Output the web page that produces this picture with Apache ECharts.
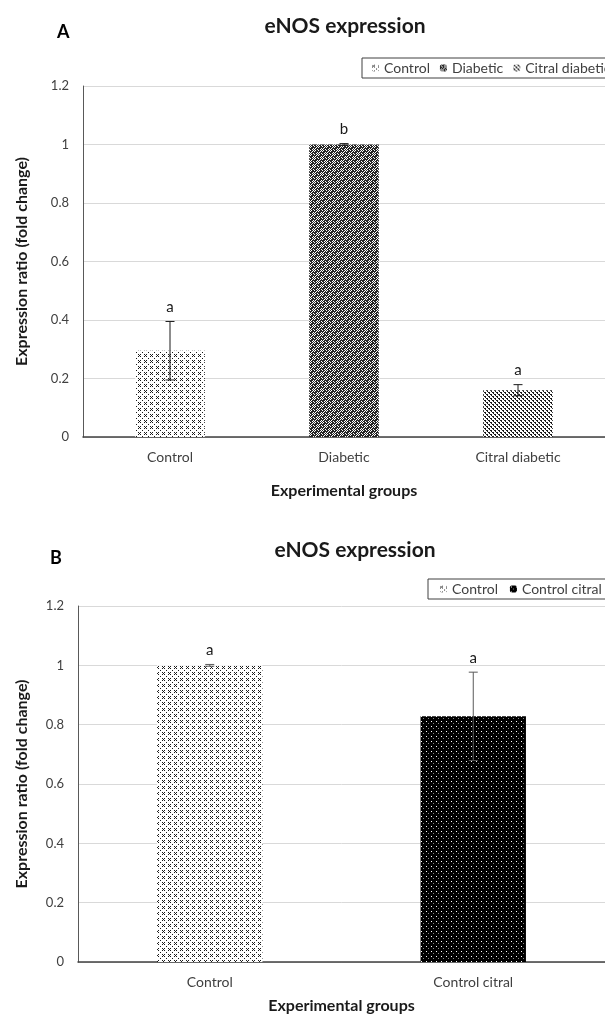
<!DOCTYPE html>
<html><head><meta charset="utf-8">
<script src="https://cdn.jsdelivr.net/npm/echarts@6/dist/echarts.min.js"></script>
<style>html,body{margin:0;padding:0;background:#fff}#c{width:605px;height:1015px}</style>
</head><body><div id="c"></div>
<script>
// ---- data ----
const catsA = ['Control', 'Diabetic', 'Citral diabetic'];
const meansA = [0.295, 1.0, 0.16];
const errA = [0.1, 0.003, 0.019];
const sigA = ['a', 'b', 'a'];

const catsB = ['Control', 'Control citral'];
const meansB = [1.0, 0.828];
const errB = [0.003, 0.149];
const sigB = ['a', 'a'];

const yMin = 0, yMax = 1.2, yStep = 0.2;

// ---- patterns ----
function makePattern(w, h, bg, fg, fn) {
  const c = document.createElement('canvas');
  c.width = w; c.height = h;
  const ctx = c.getContext('2d');
  ctx.fillStyle = bg; ctx.fillRect(0, 0, w, h);
  ctx.fillStyle = fg;
  for (let y = 0; y < h; y++) for (let x = 0; x < w; x++) if (fn(x, y)) ctx.fillRect(x, y, 1, 1);
  return { image: c, repeat: 'repeat' };
}
const patControl = makePattern(6, 6, '#ffffff', '#1a1a1a', (x, y) =>
  ((x === 0 || x === 2) && (y === 0 || y === 2)) || (x === 1 && y === 1) || (x === 4 && y === 4));
const patDiabetic = makePattern(8, 8, '#ffffff', '#262626', (x, y) => {
  const q = (x < 4) === (y < 4);
  if (q) return !((x % 4 === 1 && y % 4 === 1) || (x % 4 === 2 && y % 4 === 2));
  return (x + y) % 2 === 0;
});
const patCitral = makePattern(4, 4, '#ffffff', '#1a1a1a', (x, y) => ((x - y + 8) % 4 === 0) || ((x - y + 8) % 4 === 1 && y % 2 === 0));
const patControlCitral = (function () {
  const c = document.createElement('canvas'); c.width = 5; c.height = 5;
  const ctx = c.getContext('2d'); ctx.fillStyle = '#000'; ctx.fillRect(0, 0, 5, 5);
  ctx.fillStyle = '#ffffff'; ctx.fillRect(1, 1, 1, 1);
  ctx.fillStyle = '#8a8a8a'; ctx.fillRect(3, 3, 1, 1);
  return { image: c, repeat: 'repeat' };
})();

const FONT = 'Lato, "Open Sans", sans-serif';

function barSeries(name, idx, cats, means, xi, pat) {
  return {
    type: 'bar', name: name, xAxisIndex: xi, yAxisIndex: xi, stack: 'g' + xi,
    barWidth: '40%',
    data: cats.map((c, i) => i === idx ? means[i] : null),
    itemStyle: { color: pat },
    emphasis: { disabled: true },
    animation: false
  };
}

function errSeries(means, errs, sigs, xi, color) {
  return {
    type: 'custom', xAxisIndex: xi, yAxisIndex: xi, z: 10, animation: false, silent: true,
    data: means.map((m, i) => [i, m, errs[i]]),
    renderItem: function (params, api) {
      const i = api.value(0), m = api.value(1), e = api.value(2);
      const top = api.coord([i, m + e]);
      const bot = api.coord([i, m - e]);
      const cap = 4.5;
      return {
        type: 'group', children: [
          { type: 'line', shape: { x1: top[0], y1: top[1], x2: bot[0], y2: bot[1] }, style: { stroke: color, lineWidth: 1 } },
          { type: 'line', shape: { x1: top[0] - cap, y1: top[1], x2: top[0] + cap, y2: top[1] }, style: { stroke: color, lineWidth: 1 } },
          { type: 'line', shape: { x1: bot[0] - cap, y1: bot[1], x2: bot[0] + cap, y2: bot[1] }, style: { stroke: color, lineWidth: 1 } },
          { type: 'text', style: { text: sigs[params.dataIndex], x: top[0], y: top[1] - 14, align: 'center', verticalAlign: 'middle', font: '15px ' + FONT, fill: '#1a1a1a' } }
        ]
      };
    }
  };
}

function yAx(gi, gap) {
  return {
    gridIndex: gi, type: 'value', min: yMin, max: yMax, interval: yStep,
    name: 'Expression ratio (fold change)', nameLocation: 'middle', nameGap: gap,
    nameTextStyle: { fontFamily: FONT, fontWeight: 'bold', fontSize: 16, color: '#1a1a1a' },
    axisLine: { show: true, lineStyle: { color: '#595959', width: 1 } },
    axisTick: { show: false },
    axisLabel: { fontFamily: FONT, fontSize: 13, color: '#404040', margin: 14 },
    splitLine: { lineStyle: { color: '#d9d9d9', width: 1 } }
  };
}
function xAx(gi, cats, gap) {
  return {
    gridIndex: gi, type: 'category', data: cats,
    name: 'Experimental groups', nameLocation: 'middle', nameGap: gap,
    nameTextStyle: { fontFamily: FONT, fontWeight: 'bold', fontSize: 16, color: '#1a1a1a' },
    axisLine: { lineStyle: { color: '#404040', width: 1.5 } },
    axisTick: { show: false },
    axisLabel: { fontFamily: FONT, fontSize: 14, color: '#404040', margin: 13 }
  };
}

const chart = echarts.init(document.getElementById('c'), null, { renderer: 'canvas' });
chart.setOption({
  backgroundColor: '#ffffff',
  animation: false,
  title: [
    { text: 'eNOS expression', left: 340, top: 11, textAlign: 'center', textStyle: { fontFamily: FONT, fontWeight: 'bold', fontSize: 21, color: '#1a1a1a' } },
    { text: 'A', left: 52, top: 18, textStyle: { fontFamily: FONT, fontWeight: 'bold', fontSize: 18, color: '#000' } },
    { text: 'eNOS expression', left: 350, top: 535, textAlign: 'center', textStyle: { fontFamily: FONT, fontWeight: 'bold', fontSize: 21, color: '#1a1a1a' } },
    { text: 'B', left: 45, top: 544, textStyle: { fontFamily: FONT, fontWeight: 'bold', fontSize: 18, color: '#000' } }
  ],
  legend: [
    { data: catsA, left: 362, top: 58, width: 600, orient: 'horizontal', itemWidth: 7, itemHeight: 7, itemGap: 10,
      padding: [3, 6, 3, 10], borderColor: '#404040', borderWidth: 1, selectedMode: false,
      textStyle: { fontFamily: FONT, fontSize: 14, color: '#404040' } },
    { data: catsB.map((c, i) => ({ name: c, itemStyle: { color: i === 0 ? patControl : patControlCitral } })),
      left: 428, top: 579, width: 600, orient: 'horizontal', itemWidth: 7, itemHeight: 7, itemGap: 12,
      padding: [3, 10, 3, 12], borderColor: '#404040', borderWidth: 1, selectedMode: false,
      textStyle: { fontFamily: FONT, fontSize: 14, color: '#404040' } }
  ],
  grid: [
    { left: 83, top: 86, width: 531, height: 351 },
    { left: 78, top: 606, width: 534, height: 357 }
  ],
  xAxis: [xAx(0, catsA, 46), xAx(1, catsB, 36)],
  yAxis: [yAx(0, 53), yAx(1, 48)],
  series: [
    barSeries(catsA[0], 0, catsA, meansA, 0, patControl),
    barSeries(catsA[1], 1, catsA, meansA, 0, patDiabetic),
    barSeries(catsA[2], 2, catsA, meansA, 0, patCitral),
    errSeries(meansA, errA, sigA, 0, '#1a1a1a'),
    barSeries(catsB[0], 0, catsB, meansB, 1, patControl),
    barSeries(catsB[1], 1, catsB, meansB, 1, patControlCitral),
    errSeries(meansB, errB, sigB, 1, '#595959')
  ]
});
</script></body></html>
